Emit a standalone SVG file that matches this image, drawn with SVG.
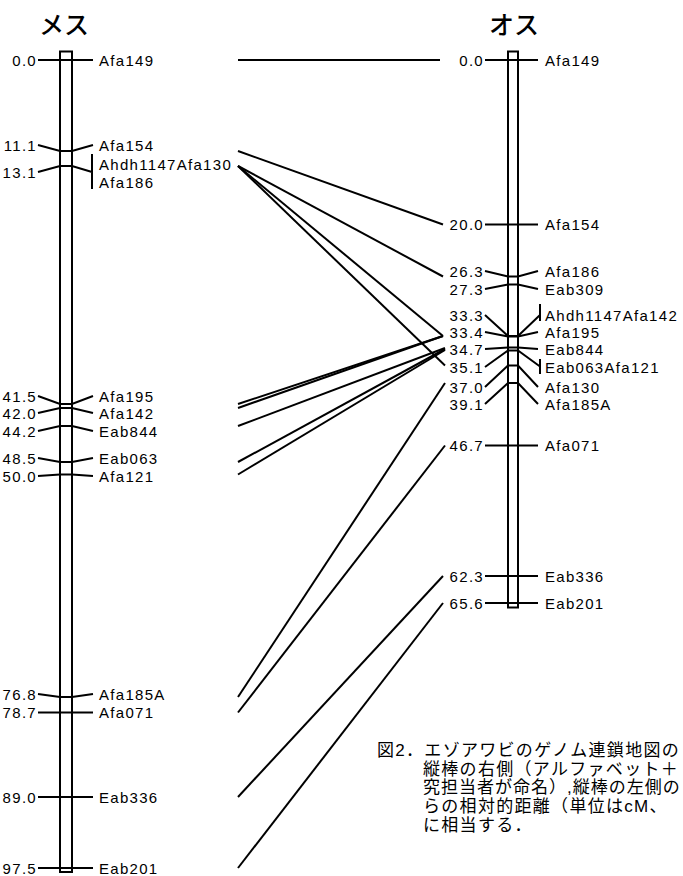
<svg xmlns="http://www.w3.org/2000/svg" width="683" height="876" viewBox="0 0 683 876">
<style>
.ln{stroke:#000;stroke-width:2;fill:none;stroke-linecap:butt;}
.chr{stroke:#000;stroke-width:2;fill:#fff;}
.t{font-family:"Liberation Sans","Noto Sans CJK JP",sans-serif;font-size:15px;letter-spacing:1.3px;fill:#000;}
.e{text-anchor:end;}
.ttl{font-family:"Noto Sans CJK JP",sans-serif;font-size:25px;font-weight:500;text-anchor:middle;fill:#000;}
.cap{font-family:"Liberation Sans","Noto Sans CJK JP",sans-serif;font-size:17px;letter-spacing:1.3px;fill:#000;}
</style>
<rect width="683" height="876" fill="#fff"/>
<text class="ttl" x="64" y="34">メス</text>
<text class="ttl" x="514" y="34">オス</text>

<g id="chromosome-female"><rect class="chr" x="60" y="51.5" width="12" height="820.5"/></g>
<g id="chromosome-male"><rect class="chr" x="508" y="51.5" width="10" height="556"/></g>

<g id="female-markers">
<g id="f-afa149"><path class="ln" d="M38 60H93"/><text class="t e" x="37" y="65.5">0.0</text><text class="t" x="99" y="65.5">Afa149</text></g>
<g id="f-afa154"><path class="ln" d="M38 145L60 151H72L93 145"/><text class="t e" x="37" y="150.5">11.1</text><text class="t" x="99" y="150.5">Afa154</text></g>
<g id="f-13-1"><path class="ln" d="M38 172L60 166H72L92 172M92 154V189"/><text class="t e" x="37" y="177.5">13.1</text><text class="t" x="99" y="169.5">Ahdh1147Afa130</text><text class="t" x="99" y="187.5">Afa186</text></g>
<g id="f-afa195"><path class="ln" d="M38 396L60 404H72L93 396"/><text class="t e" x="37" y="401.5">41.5</text><text class="t" x="99" y="401.5">Afa195</text></g>
<g id="f-afa142"><path class="ln" d="M38 413L60 408H72L93 413"/><text class="t e" x="37" y="418.5">42.0</text><text class="t" x="99" y="418.5">Afa142</text></g>
<g id="f-eab844"><path class="ln" d="M38 431L60 426H72L93 431"/><text class="t e" x="37" y="436.5">44.2</text><text class="t" x="99" y="436.5">Eab844</text></g>
<g id="f-eab063"><path class="ln" d="M38 458L60 462H72L93 458"/><text class="t e" x="37" y="463.5">48.5</text><text class="t" x="99" y="463.5">Eab063</text></g>
<g id="f-afa121"><path class="ln" d="M38 476L60 474.5H72L93 476"/><text class="t e" x="37" y="481.5">50.0</text><text class="t" x="99" y="481.5">Afa121</text></g>
<g id="f-afa185a"><path class="ln" d="M38 694L60 697H72L93 694"/><text class="t e" x="37" y="699.5">76.8</text><text class="t" x="99" y="699.5">Afa185A</text></g>
<g id="f-afa071"><path class="ln" d="M38 712.5H93"/><text class="t e" x="37" y="718">78.7</text><text class="t" x="99" y="718">Afa071</text></g>
<g id="f-eab336"><path class="ln" d="M38 797H93"/><text class="t e" x="37" y="802.5">89.0</text><text class="t" x="99" y="802.5">Eab336</text></g>
<g id="f-eab201"><path class="ln" d="M38 868H93"/><text class="t e" x="37" y="873.5">97.5</text><text class="t" x="99" y="873.5">Eab201</text></g>
</g>

<g id="male-markers">
<g id="m-afa149"><path class="ln" d="M485 60H538"/><text class="t e" x="484" y="65.5">0.0</text><text class="t" x="545" y="65.5">Afa149</text></g>
<g id="m-afa154"><path class="ln" d="M485 224.5H538"/><text class="t e" x="484" y="230">20.0</text><text class="t" x="545" y="230">Afa154</text></g>
<g id="m-afa186"><path class="ln" d="M485 271L508 276.5H518L538 271"/><text class="t e" x="484" y="276.5">26.3</text><text class="t" x="545" y="276.5">Afa186</text></g>
<g id="m-eab309"><path class="ln" d="M485 289L508 284.5H518L538 289"/><text class="t e" x="484" y="294.5">27.3</text><text class="t" x="545" y="294.5">Eab309</text></g>
<g id="m-33-3"><path class="ln" d="M485 315L508 336H518L540 315M540 304V321"/><text class="t e" x="484" y="320.5">33.3</text><text class="t" x="545" y="320.5">Ahdh1147Afa142</text></g>
<g id="m-afa195"><path class="ln" d="M485 332L508 336.5H518L538 332"/><text class="t e" x="484" y="337.5">33.4</text><text class="t" x="545" y="337.5">Afa195</text></g>
<g id="m-eab844"><path class="ln" d="M485 349L508 347.5H518L538 349"/><text class="t e" x="484" y="354.5">34.7</text><text class="t" x="545" y="354.5">Eab844</text></g>
<g id="m-35-1"><path class="ln" d="M485 367L508 350.5H518L540 366.5M540 359V374"/><text class="t e" x="484" y="372.5">35.1</text><text class="t" x="545" y="372.5">Eab063Afa121</text></g>
<g id="m-afa130"><path class="ln" d="M485 387L508 365.5H518L538 387"/><text class="t e" x="484" y="392.5">37.0</text><text class="t" x="545" y="392.5">Afa130</text></g>
<g id="m-afa185a"><path class="ln" d="M485 404L508 383H518L538 404"/><text class="t e" x="484" y="409.5">39.1</text><text class="t" x="545" y="409.5">Afa185A</text></g>
<g id="m-afa071"><path class="ln" d="M485 445.5H538"/><text class="t e" x="484" y="451">46.7</text><text class="t" x="545" y="451">Afa071</text></g>
<g id="m-eab336"><path class="ln" d="M485 576H538"/><text class="t e" x="484" y="581.5">62.3</text><text class="t" x="545" y="581.5">Eab336</text></g>
<g id="m-eab201"><path class="ln" d="M485 603H538"/><text class="t e" x="484" y="608.5">65.6</text><text class="t" x="545" y="608.5">Eab201</text></g>
</g>

<g id="connectors">
<path class="ln" d="M238 60H440"/>
<path class="ln" d="M238 151L443 224.5"/>
<path class="ln" d="M238 166L443 276.5"/>
<path class="ln" d="M238 166L443 336"/>
<path class="ln" d="M238 166L445 365.5"/>
<path class="ln" d="M238 404L443 336"/>
<path class="ln" d="M238 408L443 336"/>
<path class="ln" d="M238 426L445 348"/>
<path class="ln" d="M238 462L445 349"/>
<path class="ln" d="M238 474.5L445 350"/>
<path class="ln" d="M238 697L445 383"/>
<path class="ln" d="M238 712.5L445 445.5"/>
<path class="ln" d="M238 797L443 576"/>
<path class="ln" d="M238 868L443 603"/>
</g>

<g id="caption">
<text class="cap" x="377" y="756">図2．エゾアワビのゲノム連鎖地図の</text>
<text class="cap" x="423" y="775">縦棒の右側（アルファベット＋</text>
<text class="cap" x="423" y="793" style="letter-spacing:1px">究担当者が命名）,縦棒の左側の</text>
<text class="cap" x="423" y="812">らの相対的距離（単位はcM、</text>
<text class="cap" x="423" y="831">に相当する．</text>
</g>
</svg>
